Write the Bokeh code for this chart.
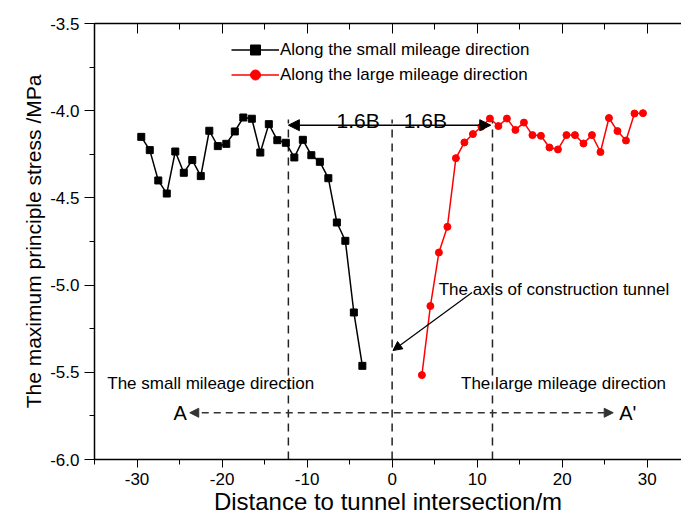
from bokeh.plotting import figure
from bokeh.models import (Range1d, LinearAxis, SingleIntervalTicker, PrintfTickFormatter,
                          Arrow, NormalHead, Label, Legend, LegendItem, ColumnDataSource)
from bokeh.embed import file_html
from bokeh.resources import INLINE

# ---- data ----
small_x = [-29.5, -28.5, -27.5, -26.5, -25.5, -24.5, -23.5, -22.5, -21.5, -20.5,
           -19.5, -18.5, -17.5, -16.5, -15.5, -14.5, -13.5, -12.5, -11.5, -10.5,
           -9.5, -8.5, -7.5, -6.5, -5.5, -4.5, -3.5]
small_y = [-4.15, -4.226, -4.40, -4.475, -4.234, -4.356, -4.283, -4.375, -4.115, -4.203,
           -4.19, -4.119, -4.039, -4.046, -4.24, -4.077, -4.169, -4.184, -4.268, -4.167,
           -4.255, -4.293, -4.387, -4.641, -4.746, -5.157, -5.463]
large_x = [3.5, 4.5, 5.5, 6.5, 7.5, 8.5, 9.5, 10.5, 11.5, 12.5,
           13.5, 14.5, 15.5, 16.5, 17.5, 18.5, 19.5, 20.5, 21.5, 22.5,
           23.5, 24.5, 25.5, 26.5, 27.5, 28.5, 29.5]
large_y = [-5.516, -5.12, -4.813, -4.666, -4.272, -4.182, -4.134, -4.092, -4.045, -4.088,
           -4.045, -4.11, -4.068, -4.14, -4.144, -4.211, -4.222, -4.14, -4.14, -4.188,
           -4.14, -4.237, -4.042, -4.117, -4.171, -4.016, -4.014]

series_names = ["Along the small mileage direction", "Along the large mileage direction"]
boundary_x = [-12.2, 0.0, 11.8]
x_title = "Distance to tunnel intersection/m"
y_title = "The maximum principle stress /MPa"

FONT = "Liberation Sans"

p = figure(width=681, height=520, x_range=Range1d(-35, 34.03), y_range=Range1d(-6.0, -3.5),
           output_backend="svg", toolbar_location=None,
           min_border_left=94, min_border_right=0, min_border_top=23, min_border_bottom=61)
p.grid.visible = False
p.outline_line_color = None
p.background_fill_color = "white"
p.border_fill_color = "white"

# axes
xax = p.xaxis[0]
xax.ticker = SingleIntervalTicker(interval=10, num_minor_ticks=2)
xax.formatter = PrintfTickFormatter(format="%d")
xax.axis_label = x_title
xax.axis_label_text_font = FONT
xax.axis_label_text_font_size = "24px"
xax.axis_label_text_font_style = "normal"
xax.axis_label_text_color = "black"
xax.axis_label_standoff = 0
xax.major_label_text_font = FONT
xax.major_label_text_font_size = "17px"
xax.major_label_text_color = "black"
xax.major_label_standoff = 5
xax.major_tick_out = 8
xax.major_tick_in = 0
xax.minor_tick_out = 5
xax.minor_tick_in = 0
xax.axis_line_width = 1.5
xax.axis_line_color = "black"
xax.major_tick_line_color = "black"
xax.minor_tick_line_color = "black"

yax = p.yaxis[0]
yax.ticker = SingleIntervalTicker(interval=0.5, num_minor_ticks=2)
yax.formatter = PrintfTickFormatter(format="%.1f")
yax.axis_label = y_title
yax.axis_label_text_font = FONT
yax.axis_label_text_font_size = "21px"
yax.axis_label_text_font_style = "normal"
yax.axis_label_text_color = "black"
yax.axis_label_standoff = 2
yax.major_label_text_font = FONT
yax.major_label_text_font_size = "17px"
yax.major_label_text_color = "black"
yax.major_label_standoff = 5
yax.major_tick_out = 10
yax.major_tick_in = 0
yax.minor_tick_out = 5
yax.minor_tick_in = 0
yax.axis_line_width = 1.5
yax.axis_line_color = "black"
yax.major_tick_line_color = "black"
yax.minor_tick_line_color = "black"

top = LinearAxis(ticker=SingleIntervalTicker(interval=10, num_minor_ticks=2),
                 formatter=PrintfTickFormatter(format=""),
                 major_label_standoff=0,
                 major_tick_in=10, major_tick_out=0, minor_tick_in=6, minor_tick_out=0,
                 axis_line_width=1.5, axis_line_color="black",
                 major_tick_line_color="black", minor_tick_line_color="black")
p.add_layout(top, "above")

# boundary dashed lines
p.segment(x0=boundary_x, y0=[-6.0] * 3, x1=boundary_x, y1=[-4.05] * 3,
          line_color="#222222", line_width=1.5, line_dash="8 6")

# series
src_s = ColumnDataSource(dict(x=small_x, y=small_y))
src_l = ColumnDataSource(dict(x=large_x, y=large_y))
ls = p.line("x", "y", source=src_s, line_color="black", line_width=1.5)
ms = p.scatter("x", "y", source=src_s, marker="square", size=7, fill_color="black", line_color="black")
ll = p.line("x", "y", source=src_l, line_color="#ff0000", line_width=1.5)
ml = p.scatter("x", "y", source=src_l, marker="circle", size=7, fill_color="#ff0000", line_color="#ff0000")

legend = Legend(items=[LegendItem(label=series_names[0], renderers=[ls, ms]),
                       LegendItem(label=series_names[1], renderers=[ll, ml])],
                location=(137, 372), padding=0, margin=0, spacing=0,
                glyph_width=48, glyph_height=25, label_height=25, label_standoff=1,
                label_text_font=FONT, label_text_font_size="17px", label_text_color="black",
                border_line_color=None, background_fill_alpha=0)
p.add_layout(legend)

# 1.6B arrows
y_arr = -4.083
p.add_layout(Arrow(end=NormalHead(size=11, fill_color="black", line_color="black"),
                   x_start=0, y_start=y_arr, x_end=boundary_x[0], y_end=y_arr,
                   line_width=1.5, line_color="black"))
p.add_layout(Arrow(end=NormalHead(size=11, fill_color="black", line_color="black"),
                   x_start=0, y_start=y_arr, x_end=11.6, y_end=y_arr,
                   line_width=1.5, line_color="black"))
for xx in (-4.0, 3.9):
    p.add_layout(Label(x=xx, y=-4.058, text="1.6B", text_align="center", text_baseline="alphabetic",
                       text_font=FONT, text_font_size="21px", text_color="black"))

# axis of construction tunnel
p.add_layout(Label(x=5.47, y=-5.023, text="The axis of construction tunnel", text_align="left",
                   text_baseline="alphabetic", text_font=FONT, text_font_size="17px", text_color="black"))
p.add_layout(Arrow(end=NormalHead(size=9, fill_color="black", line_color="black"),
                   x_start=9.4, y_start=-5.042, x_end=0.1, y_end=-5.375,
                   line_width=1.2, line_color="black"))

# direction texts
p.add_layout(Label(x=-33.5, y=-5.566, text="The small mileage direction", text_align="left",
                   text_baseline="middle", text_font=FONT, text_font_size="17px", text_color="black"))
p.add_layout(Label(x=8.1, y=-5.566, text="The large mileage direction", text_align="left",
                   text_baseline="middle", text_font=FONT, text_font_size="17px", text_color="black"))
y_aa = -5.732
p.add_layout(Arrow(start=NormalHead(size=9, fill_color="#333333", line_color="#333333"),
                   end=NormalHead(size=9, fill_color="#333333", line_color="#333333"),
                   x_start=-23.8, y_start=y_aa, x_end=26.0, y_end=y_aa,
                   line_width=1.5, line_color="#333333", line_dash="7 5"))
p.add_layout(Label(x=-25.7, y=y_aa, text="A", text_align="left", text_baseline="middle",
                   text_font=FONT, text_font_size="20px", text_color="black"))
p.add_layout(Label(x=26.7, y=y_aa, text="A'", text_align="left", text_baseline="middle",
                   text_font=FONT, text_font_size="20px", text_color="black"))

open("out.html", "w").write(file_html(p, INLINE))
